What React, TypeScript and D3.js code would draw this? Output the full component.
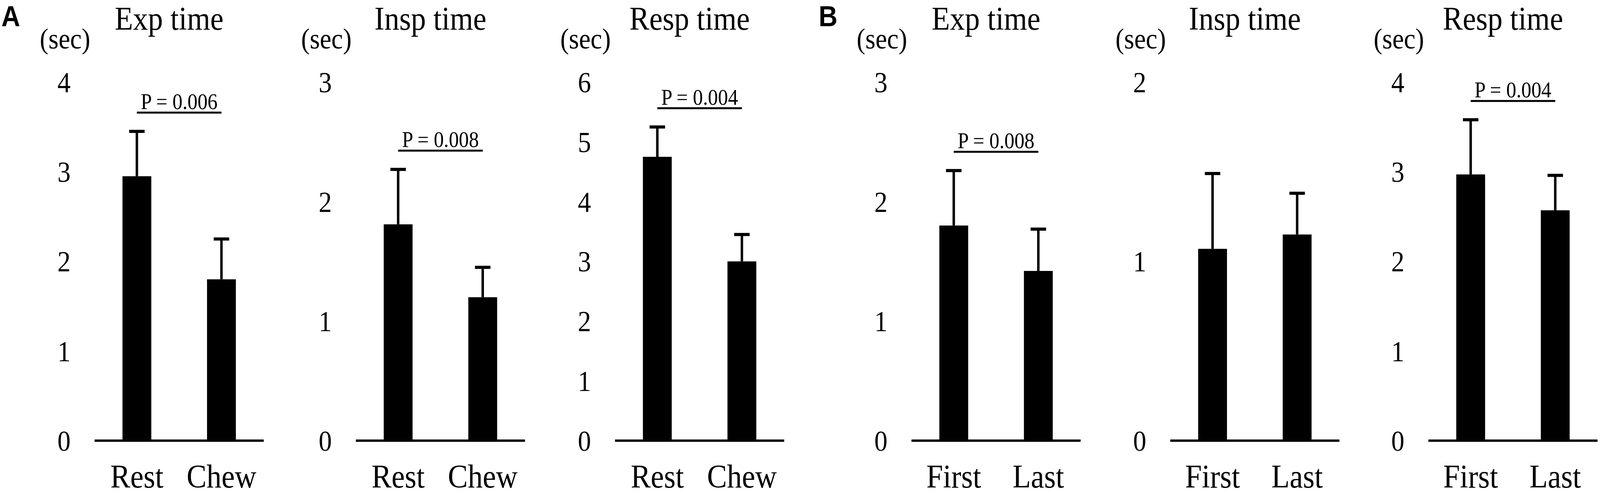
import * as React from 'react';
import * as d3 from 'd3';

const W = 4550;
const H = 1266;

// chart values
const panelTitles = ['Exp time', 'Insp time', 'Resp time', 'Exp time', 'Insp time', 'Resp time'];
const restChew = ['Rest', 'Chew'];
const firstLast = ['First', 'Last'];
const panelCategories = [restChew, restChew, restChew, firstLast, firstLast, firstLast];
const means = [
  [2.95, 1.8],
  [1.81, 1.2],
  [4.75, 3.0],
  [1.8, 1.42],
  [1.07, 1.15],
  [2.97, 2.57],
];
const sds = [
  [0.5, 0.45],
  [0.46, 0.25],
  [0.5, 0.45],
  [0.46, 0.35],
  [0.42, 0.23],
  [0.61, 0.39],
];
const yMax = [4, 3, 6, 3, 2, 4];
const pLabels = ['P = 0.006', 'P = 0.008', 'P = 0.004', 'P = 0.008', '', 'P = 0.004'];
const panelLetters = ['A', 'B'];

// layout
const axisLeft = [269, 1012, 1749, 2592, 3328, 4062];
const letterX = [4, 2328];
const axisWidth = 481;
const y0 = 1127;
const yTop = 210;
const barW = 82;
const capW = 44;
const serif = '"Liberation Serif", "Times New Roman", serif';
const sans = '"Liberation Sans", Arial, sans-serif';

const Panel = ({ i }: { i: number }) => {
  const left = axisLeft[i];
  const cats = panelCategories[i];
  const x = d3.scalePoint<string>().domain(cats).range([0, axisWidth]).padding(0.5);
  const y = d3.scaleLinear().domain([0, yMax[i]]).range([y0, yTop]);
  const ticks = d3.range(0, yMax[i] + 1);
  const tickX = -87;
  const errTops = means[i].map((m, j) => y(m + sds[i][j]));
  const pY = (d3.min(errTops) as number) - 48;
  const xa = x(cats[0]) as number;
  const xb = x(cats[1]) as number;

  return (
    <g transform={`translate(${left},0)`}>
      <text x={212} y={76} fontSize={85} textAnchor="middle" fontFamily={serif}>
        {panelTitles[i]}
      </text>
      <text x={tickX + 3} y={124} fontSize={74} textAnchor="middle" fontFamily={serif}>
        (sec)
      </text>
      {ticks.map((t) => (
        <text key={t} x={tickX} y={y(t) + 26} fontSize={75} textAnchor="middle" fontFamily={serif}>
          {t}
        </text>
      ))}
      {cats.map((c, j) => {
        const cx = x(c) as number;
        const top = y(means[i][j]);
        const et = errTops[j];
        return (
          <g key={c}>
            <rect x={cx - barW / 2} y={top} width={barW} height={y0 - top} fill="#000" />
            <line x1={cx} x2={cx} y1={top} y2={et} stroke="#000" strokeWidth={7} />
            <line x1={cx - capW / 2} x2={cx + capW / 2} y1={et} y2={et} stroke="#000" strokeWidth={8} />
            <text x={cx} y={1247} fontSize={85} textAnchor="middle" fontFamily={serif}>
              {c}
            </text>
          </g>
        );
      })}
      <line x1={0} x2={axisWidth} y1={y0} y2={y0} stroke="#000" strokeWidth={6} />
      {pLabels[i] && (
        <g>
          <line x1={xa} x2={xb} y1={pY} y2={pY} stroke="#000" strokeWidth={5} />
          <text x={(xa + xb) / 2} y={pY - 9} fontSize={57} textAnchor="middle" fontFamily={serif}>
            {pLabels[i]}
          </text>
        </g>
      )}
    </g>
  );
};

const App = () => {
  // scale the whole figure to the window so nothing gets cropped
  return (
    <svg
      viewBox={`0 0 ${W} ${H}`}
      preserveAspectRatio="none"
      style={{ position: 'fixed', left: 0, top: 0, width: '100vw', height: '100vh', background: '#fff' }}
    >
      <rect width={W} height={H} fill="#fff" />
      {panelLetters.map((l, k) => (
        <text key={l} x={letterX[k]} y={67} fontSize={74} fontWeight="bold" fontFamily={sans}>
          {l}
        </text>
      ))}
      {panelTitles.map((_, i) => (
        <Panel key={i} i={i} />
      ))}
    </svg>
  );
};

export default App;
